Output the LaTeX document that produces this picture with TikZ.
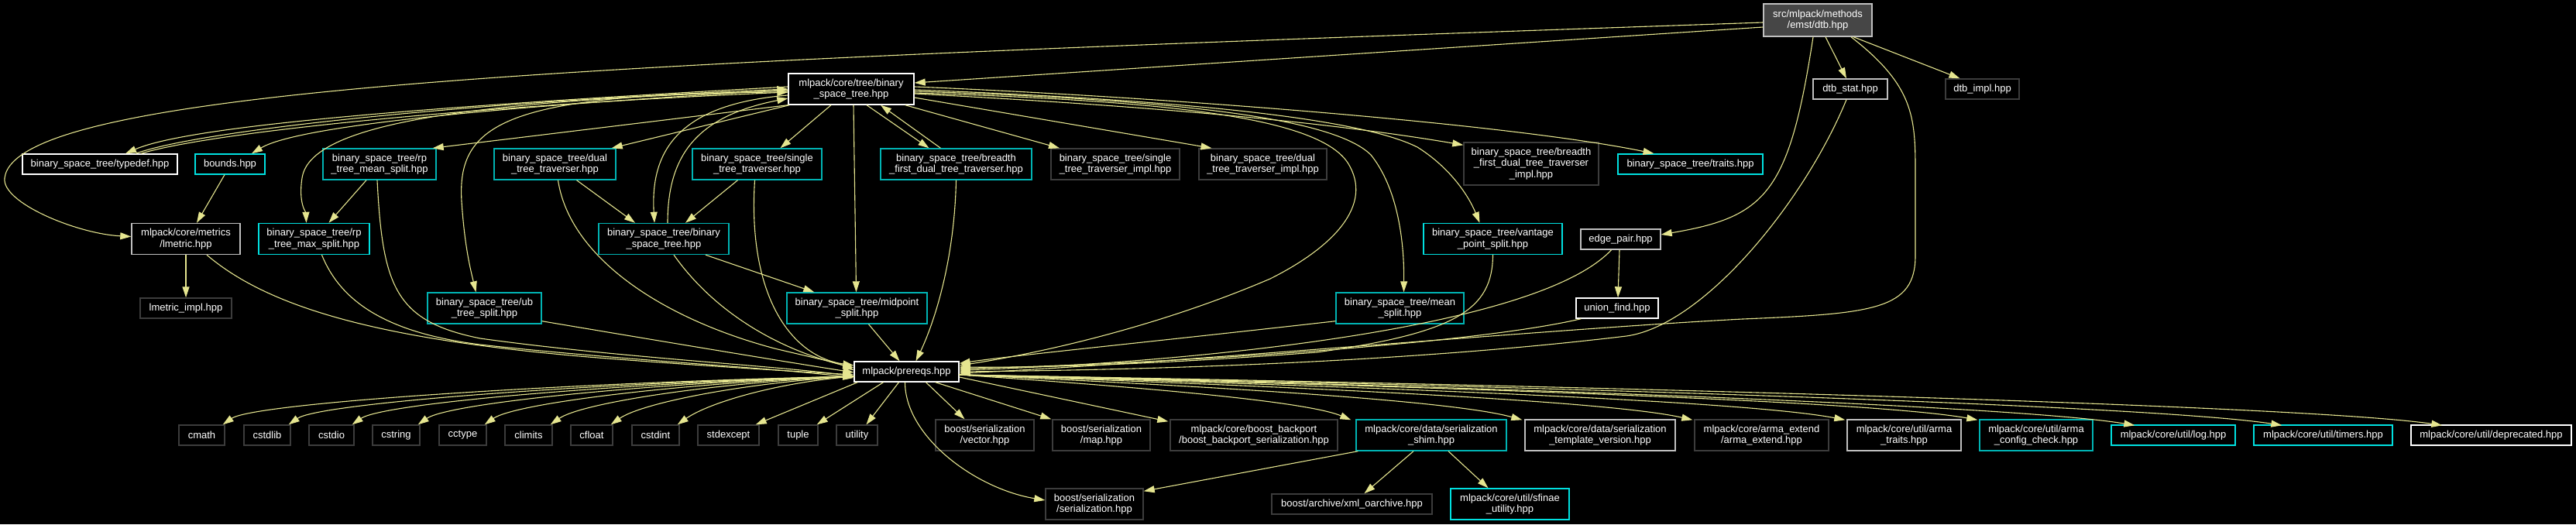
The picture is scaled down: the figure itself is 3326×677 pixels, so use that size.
\documentclass[tikz,border=0pt]{standalone}
\usepackage{fontspec}
\setmainfont{Liberation Sans}
\usepackage{tikz}
\usetikzlibrary{arrows.meta,calc}

\definecolor{edgec}{HTML}{E5E58F}
\definecolor{lgray}{HTML}{BFBFBF}
\definecolor{dgray}{HTML}{3C3C3C}
\definecolor{tealc}{HTML}{00B3B3}
\definecolor{cyanc}{HTML}{00E0E0}
\definecolor{rootc}{HTML}{464646}

\begin{document}
\begin{tikzpicture}[
      x=1pt, y=-1pt,
      box/.style={rectangle, draw, fill=black, text=white, line width=1.4pt, inner sep=0pt, align=center, minimum height=26pt, font=\fontsize{13}{14.3}\selectfont},
      wbox/.style={box, draw=white},
      gbox/.style={box, draw=lgray},
      dbox/.style={box, draw=dgray},
      cbox/.style={box, draw=tealc},
      tbox/.style={box, draw=cyanc},
      two/.style={minimum height=40pt},
      dep/.style={draw=edgec, line width=1.1pt, -{Triangle[length=14pt,width=9pt]}}
    ]
    \fill[black] (0,0) rectangle (3326,677);
    \useasboundingbox (0,0) rectangle (3326,677);

    % top file and first level
    \node[gbox, two, fill=rootc, minimum width=140pt, minimum height=42pt] (dtb) at (2347,26) {src/mlpack/methods\\/emst/dtb.hpp};
    \node[wbox, two, minimum width=162pt] (bst) at (1099,115) {mlpack/core/tree/binary\\\_space\_tree.hpp};
    \node[gbox, minimum width=96pt] (dtbstat) at (2389,115) {dtb\_stat.hpp};
    \node[dbox, minimum width=95pt] (dtbimpl) at (2559.5,115) {dtb\_impl.hpp};

    % binary space tree parts
    \node[wbox, minimum width=200pt] (typedef) at (129,212) {binary\_space\_tree/typedef.hpp};
    \node[tbox, minimum width=90pt] (bounds) at (297,212) {bounds.hpp};
    \node[cbox, two, minimum width=146pt] (rpmean) at (490,212) {binary\_space\_tree/rp\\\_tree\_mean\_split.hpp};
    \node[cbox, two, minimum width=157pt] (dualtrav) at (716.5,212) {binary\_space\_tree/dual\\\_tree\_traverser.hpp};
    \node[cbox, two, minimum width=167pt] (singletrav) at (977.5,212) {binary\_space\_tree/single\\\_tree\_traverser.hpp};
    \node[cbox, two, minimum width=195pt] (bfttrav) at (1234.5,212) {binary\_space\_tree/breadth\\\_first\_dual\_tree\_traverser.hpp};
    \node[dbox, two, minimum width=166pt] (singleimpl) at (1440,212) {binary\_space\_tree/single\\\_tree\_traverser\_impl.hpp};
    \node[dbox, two, minimum width=165pt] (dualimpl) at (1630.5,212) {binary\_space\_tree/dual\\\_tree\_traverser\_impl.hpp};
    \node[dbox, minimum width=174pt, minimum height=55pt] (bftimpl) at (1977,211.5) {binary\_space\_tree/breadth\\\_first\_dual\_tree\_traverser\\\_impl.hpp};
    \node[tbox, minimum width=187pt] (traits) at (2182.5,212) {binary\_space\_tree/traits.hpp};

    \node[gbox, two, minimum width=140pt] (lmetric) at (240,308.5) {mlpack/core/metrics\\/lmetric.hpp};
    \node[tbox, two, minimum width=143pt] (rpmax) at (405.5,308.5) {binary\_space\_tree/rp\\\_tree\_max\_split.hpp};
    \node[cbox, two, minimum width=168pt] (bsts) at (857,308.5) {binary\_space\_tree/binary\\\_space\_tree.hpp};
    \node[tbox, two, minimum width=179pt] (vantage) at (1927.5,308.5) {binary\_space\_tree/vantage\\\_point\_split.hpp};
    \node[gbox, minimum width=103pt] (edgepair) at (2092.5,309) {edge\_pair.hpp};

    \node[dbox, minimum width=118pt] (lmimpl) at (240,398) {lmetric\_impl.hpp};
    \node[cbox, two, minimum width=147pt] (ubsplit) at (625.5,398) {binary\_space\_tree/ub\\\_tree\_split.hpp};
    \node[cbox, two, minimum width=181pt] (midpoint) at (1106.5,398) {binary\_space\_tree/midpoint\\\_split.hpp};
    \node[cbox, two, minimum width=165pt] (meansplit) at (1807.5,398) {binary\_space\_tree/mean\\\_split.hpp};
    \node[wbox, minimum width=106pt] (unionfind) at (2088,398) {union\_find.hpp};

    \node[wbox, minimum width=135pt] (prereqs) at (1170.5,480) {mlpack/prereqs.hpp};

    % headers included by prereqs
    \foreach \n/\x/\w in {cmath/260.5/59, cstdlib/345/60, cstdio/428/58, cstring/511.5/61, cctype/597.5/61,
        climits/682.5/61, cfloat/764/54, cstdint/846.5/61, stdexcept/940.5/79, tuple/1030.5/51, utility/1106.5/53}
      \node[dbox, minimum width=\w pt] (\n) at (\x,562) {\n};
    \node[dbox, two, minimum width=127pt] (svector) at (1271.5,562) {boost/serialization\\/vector.hpp};
    \node[dbox, two, minimum width=126pt] (smap) at (1422,562) {boost/serialization\\/map.hpp};
    \node[dbox, two, minimum width=216pt] (backport) at (1619,562) {mlpack/core/boost\_backport\\/boost\_backport\_serialization.hpp};
    \node[cbox, two, minimum width=194pt] (shim) at (1848,562) {mlpack/core/data/serialization\\\_shim.hpp};
    \node[gbox, two, minimum width=194pt] (tmplver) at (2066,562) {mlpack/core/data/serialization\\\_template\_version.hpp};
    \node[dbox, two, minimum width=173pt] (armaext) at (2274.5,562) {mlpack/core/arma\_extend\\/arma\_extend.hpp};
    \node[gbox, two, minimum width=147pt] (armatraits) at (2458.5,562) {mlpack/core/util/arma\\\_traits.hpp};
    \node[cbox, two, minimum width=146pt] (armacfg) at (2629,562) {mlpack/core/util/arma\\\_config\_check.hpp};
    \node[tbox, minimum width=160pt] (logh) at (2806,562) {mlpack/core/util/log.hpp};
    \node[tbox, minimum width=179pt] (timers) at (2999.5,562) {mlpack/core/util/timers.hpp};
    \node[wbox, minimum width=207pt] (deprecated) at (3216.5,562) {mlpack/core/util/deprecated.hpp};

    \node[dbox, two, minimum width=126pt] (sserial) at (1413,651) {boost/serialization\\/serialization.hpp};
    \node[dbox, minimum width=207pt] (xmlo) at (1745.5,651) {boost/archive/xml\_oarchive.hpp};
    \node[tbox, two, minimum width=153pt] (sfinae) at (1949.5,651) {mlpack/core/util/sfinae\\\_utility.hpp};

    % includes of dtb.hpp
    \draw[dep] ($(dtb.west)+(0,3)$) .. controls (800,80) and (20,110) .. (6,230) .. controls (2,262) and (100,302) .. ($(lmetric.west)+(0,-3)$);
    \draw[dep] ($(dtb.west)+(0,9)$) -- ($(bst.east)+(0,-8)$);
    \draw[dep] ($(dtb.south)+(10,0)$) -- ($(dtbstat.north)+(-5,0)$);
    \draw[dep] ($(dtb.south)+(46,0)$) -- ($(dtbimpl.north)+(-29,0)$);
    \draw[dep] ($(dtb.south)+(-6,0)$) .. controls (2310,250) and (2280,280) .. ($(edgepair.east)+(0,-6)$);
    \draw[dep] ($(dtb.south)+(43,0)$) .. controls (2470,110) and (2473,150) .. (2473,220) -- (2473,330) .. controls (2473,400) and (2420,405) .. (2250,412) .. controls (2000,425) and (1500,470) .. ($(prereqs.east)+(0,2)$);
    \draw[dep] ($(dtbstat.south)+(-5,0)$) .. controls (2330,260) and (2200,420) .. (2100,434) .. controls (1800,470) and (1450,478) .. (prereqs.east);
    \draw[dep] ($(edgepair.south)+(-1.5,0)$) -- ($(unionfind.north)+(1,0)$);
    \draw[dep] ($(edgepair.south)+(-12,0)$) .. controls (1980,430) and (1500,470) .. ($(prereqs.east)+(0,-2)$);
    \draw[dep] ($(unionfind.south west)+(7,0)$) .. controls (1900,445) and (1500,470) .. ($(prereqs.east)+(0,-4)$);

    % includes of binary_space_tree.hpp
    \draw[dep] ($(bst.west)+(0,-3)$) .. controls (600,135) and (250,160) .. ($(typedef.north)+(33,0)$);
    \draw[dep] ($(typedef.north)+(46,0)$) .. controls (260,168) and (600,132) .. (bst.west);
    \draw[dep] ($(typedef.north)+(53,0)$) .. controls (275,170) and (620,136) .. ($(bst.west)+(0,4)$);
    \draw[dep] ($(bst.west)+(0,1)$) .. controls (600,140) and (380,165) .. ($(bounds.north)+(28,0)$);
    \draw[dep] (bst.south west) -- ($(rpmean.north east)+(-5,0)$);
    \draw[dep] ($(bst.west)+(0,2)$) .. controls (600,130) and (400,160) .. (390,230) .. controls (385,262) and (395,275) .. ($(rpmax.north)+(-10,0)$);
    \draw[dep] ($(bst.south west)+(2,0)$) -- ($(dualtrav.north east)+(-6,0)$);
    \draw[dep] ($(bst.south)+(-26,0)$) -- ($(singletrav.north)+(30,0)$);
    \draw[dep] ($(bst.west)+(0,8)$) .. controls (870,135) and (840,200) .. ($(bsts.north)+(-12,0)$);
    \draw[dep] ($(bsts.north)+(5,0)$) .. controls (862,200) and (900,150) .. ($(bst.west)+(0,12)$);
    \draw[dep] ($(bst.west)+(0,4)$) .. controls (650,120) and (590,160) .. (596,260) .. controls (600,320) and (608,350) .. ($(ubsplit.north)+(-11,0)$);
    \draw[dep] ($(bst.south)+(3,0)$) -- ($(midpoint.north)+(-1,0)$);
    \draw[dep] ($(bst.south)+(20,0)$) -- ($(bfttrav.north)+(-35,0)$);
    \draw[dep] ($(bfttrav.north)+(-20,0)$) -- ($(bst.south)+(38,0)$);
    \draw[dep] ($(bst.south east)+(-12,0)$) -- ($(singleimpl.north)+(-72,0)$);
    \draw[dep] ($(bst.east)+(0,11)$) -- ($(dualimpl.north)+(-66,0)$);
    \draw[dep] ($(bst.east)+(0,6)$) .. controls (1450,135) and (1700,155) .. ($(bftimpl.north west)+(0,4)$);
    \draw[dep] ($(bst.east)+(0,-3)$) .. controls (1500,125) and (1950,160) .. ($(traits.north)+(-47,0)$);
    \draw[dep] ($(bst.east)+(0,1)$) .. controls (1500,128) and (1750,150) .. (1830,190) .. controls (1870,215) and (1895,250) .. ($(vantage.north)+(-17,0)$);
    \draw[dep] ($(bst.east)+(0,3)$) .. controls (1500,128) and (1720,150) .. (1770,200) .. controls (1810,250) and (1813,330) .. ($(meansplit.north)+(5,0)$);
    \draw[dep] ($(bst.east)+(0,5)$) .. controls (1500,130) and (1700,150) .. (1740,210) .. controls (1775,265) and (1720,320) .. (1640,360) .. controls (1500,420) and (1350,455) .. ($(prereqs.east)+(0,-8)$);

    % second level
    \draw[dep] ($(bounds.south)+(-7,0)$) -- ($(lmetric.north)+(14,0)$);
    \draw[dep] (lmetric.south) -- (lmimpl.north);
    \draw[dep] ($(rpmean.south)+(-17,0)$) -- ($(rpmax.north)+(19,0)$);
    \draw[dep] ($(dualtrav.south)+(28,0)$) -- ($(bsts.north)+(-37,0)$);
    \draw[dep] ($(singletrav.south)+(-25,0)$) -- ($(bsts.north)+(28,0)$);
    \draw[dep] ($(bsts.south)+(54,0)$) -- ($(midpoint.north west)+(36,0)$);
    \draw[dep] ($(lmetric.south)+(27,0)$) .. controls (350,400) and (500,440) .. (772,462) .. controls (900,472) and (1000,478) .. ($(prereqs.west)+(0,4)$);
    \draw[dep] ($(rpmean.south)+(-3,0)$) .. controls (494,370) and (510,415) .. (620,437) .. controls (800,462) and (1000,472) .. ($(prereqs.west)+(0,6)$);
    \draw[dep] ($(rpmax.south)+(10,0)$) .. controls (440,390) and (500,430) .. (620,445) .. controls (800,465) and (1000,475) .. ($(prereqs.west)+(0,8)$);
    \draw[dep] ($(dualtrav.south)+(4,0)$) .. controls (735,330) and (850,410) .. (1000,450) .. controls (1050,462) and (1080,468) .. ($(prereqs.west)+(0,-2)$);
    \draw[dep] ($(singletrav.south)+(-3,0)$) .. controls (965,380) and (1020,460) .. ($(prereqs.west)+(0,-8)$);
    \draw[dep] ($(bsts.south)+(13,0)$) .. controls (920,400) and (1000,450) .. ($(prereqs.west)+(0,-5)$);
    \draw[dep] ($(ubsplit.south east)+(0,-4)$) .. controls (850,440) and (1000,465) .. ($(prereqs.west)+(0,1)$);
    \draw[dep] ($(midpoint.south)+(15,0)$) -- ($(prereqs.north)+(-9,0)$);
    \draw[dep] (bfttrav.south) .. controls (1232,350) and (1200,430) .. ($(prereqs.north)+(12,0)$);
    \draw[dep] ($(meansplit.south west)+(0,-4)$) .. controls (1500,440) and (1300,460) .. ($(prereqs.north east)+(0,3)$);
    \draw[dep] (vantage.south) .. controls (1927,400) and (1880,430) .. (1700,455) .. controls (1500,470) and (1350,475) .. ($(prereqs.east)+(0,-6)$);

    % includes of prereqs.hpp
    \foreach \n/\c in {cmath/370,cstdlib/330,cstdio/290,cstring/255,cctype/215,climits/180,cfloat/140,cstdint/100}
      \draw[dep] ($(prereqs.west)+(0,6)$) .. controls +(-\c,8) and +(40,-28) .. ($(\n.north east)+(-3,0)$);
    \draw[dep] ($(prereqs.south west)+(5,0)$) -- ($(stdexcept.north east)+(-5,0)$);
    \draw[dep] ($(prereqs.south)+(-30,0)$) -- ($(tuple.north east)+(-2,0)$);
    \draw[dep] ($(prereqs.south)+(-10,0)$) -- ($(utility.north)+(12,0)$);
    \draw[dep] ($(prereqs.south)+(-2,0)$) .. controls +(0,70) and +(-90,-15) .. ($(sserial.west)+(0,-5)$);
    \draw[dep] ($(prereqs.south)+(25,0)$) -- ($(svector.north)+(-26,0)$);
    \draw[dep] ($(prereqs.south east)+(-31,0)$) -- ($(smap.north west)+(-1,0)$);
    \draw[dep] ($(prereqs.east)+(0,7)$) -- ($(backport.north west)+(-2,3)$);
    \foreach \n/\a/\b/\o in {shim/220/60/-6, tmplver/330/90/-3, armaext/430/110/-2, armatraits/520/130/-2,
        armacfg/600/140/-2, logh/690/150/31, timers/780/160/37, deprecated/870/170/41}
      \draw[dep] ($(prereqs.east)+(0,4)$) .. controls +(\a,15) and +(-\b,-25) .. ($(\n.north west)+(\o,1)$);

    % serialization shim
    \draw[dep] ($(shim.south west)+(3,0)$) -- ($(sserial.north east)+(0,4)$);
    \draw[dep] ($(shim.south)+(-23,0)$) -- ($(xmlo.north)+(16,0)$);
    \draw[dep] ($(shim.south)+(22,0)$) -- ($(sfinae.north)+(-28,0)$);
  \end{tikzpicture}
\end{document}
